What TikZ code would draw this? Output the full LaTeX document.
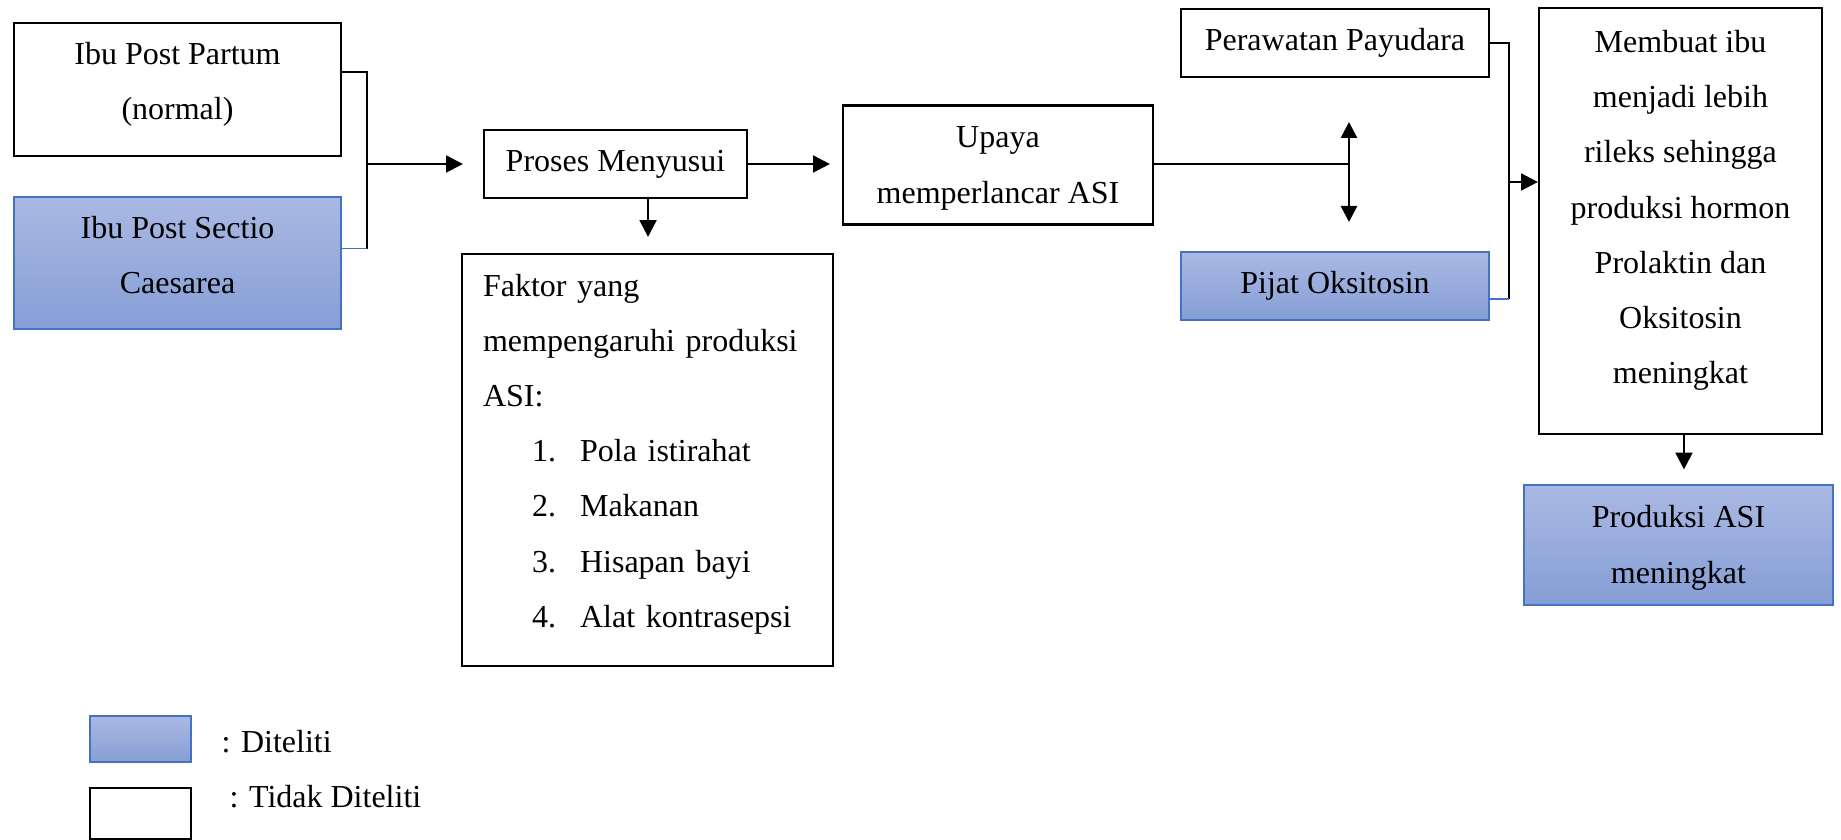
\documentclass[tikz,border=0pt]{standalone}
\usepackage{fontspec}
\setmainfont{Liberation Serif}
\usepackage{tikz}
\usetikzlibrary{calc}
\usetikzlibrary{arrows.meta}

\definecolor{diteliti}{RGB}{68,114,196}
\definecolor{ditelititop}{RGB}{170,185,227}
\definecolor{ditelitibot}{RGB}{134,158,214}

\newcommand{\pxu}{0.375pt}

\begin{document}
\begin{tikzpicture}[x=0.375pt, y=-0.375pt,
    font=\fontsize{12pt}{20.7pt}\selectfont,
    kotak/.style={draw, line width=0.8pt, align=center, inner sep=0pt},
    biru/.style={draw=diteliti, line width=0.45pt, top color=ditelititop, bottom color=ditelitibot, align=center, inner sep=0pt},
    garis/.style={line width=0.9pt},
    garisbiru/.style={draw=diteliti, line width=0.45pt},
    panah/.style={line width=0.9pt, -{Triangle[length=6.3pt,width=6.3pt]}},
    panahdua/.style={line width=1pt, {Triangle[length=6pt,width=6pt]}-{Triangle[length=6pt,width=6pt]}}]
    \useasboundingbox (0,0) rectangle (1841,840);

    \node[kotak, minimum width=327*\pxu, minimum height=133*\pxu, text depth=6.2pt] (pp) at (177.5,89.5) {Ibu Post Partum\\(normal)};
    \node[biru, minimum width=327*\pxu, minimum height=132*\pxu, text depth=5.8pt] (sc) at (177.5,263) {Ibu Post Sectio\\Caesarea};
    \node[kotak, minimum width=263*\pxu, minimum height=68*\pxu] (pm) at (615.5,164) {Proses Menyusui};
    \node[kotak, minimum width=310*\pxu, minimum height=119*\pxu] (up) at (998,165) {\rule{0pt}{10.5pt}Upaya\\memperlancar ASI};
    \node[kotak, minimum width=371*\pxu, minimum height=412*\pxu, align=left, text width=329*\pxu, inner xsep=21*\pxu, text depth=131.2pt] (fk) at (647.5,460)
      {Faktor yang\\mempengaruhi produksi\\ASI:\\
       \hspace*{18.4pt}\makebox[18pt][l]{1.}Pola istirahat\\
       \hspace*{18.4pt}\makebox[18pt][l]{2.}Makanan\\
       \hspace*{18.4pt}\makebox[18pt][l]{3.}Hisapan bayi\\
       \hspace*{18.4pt}\makebox[18pt][l]{4.}Alat kontrasepsi};
    \node[kotak, minimum width=308*\pxu, minimum height=68*\pxu] (pr) at (1335,43) {Perawatan Payudara};
    \node[biru, minimum width=308*\pxu, minimum height=68*\pxu] (po) at (1335,286) {Pijat Oksitosin};
    \node[kotak, minimum width=283*\pxu, minimum height=426*\pxu, text depth=10.5pt] (mb) at (1680.5,221)
      {Membuat ibu\\menjadi lebih\\rileks sehingga\\produksi hormon\\Prolaktin dan\\Oksitosin\\meningkat};
    \node[biru, minimum width=309*\pxu, minimum height=120*\pxu] (pa) at (1678.5,545) {\rule{0pt}{10.4pt}Produksi ASI\\meningkat};

    \coordinate (ppk) at ([yshift=6.6pt]pp.east);
    \coordinate (sck) at ([yshift=5.3pt]sc.east);
    \coordinate (kiri) at (367,164);
    \draw[garis] (ppk) -| (kiri) -- (kiri |- sck);
    \draw[garisbiru] (sck) -- (kiri |- sck);
    \draw[panah, shorten >=7.5pt] (kiri) -- (pm.west);

    \draw[panah, shorten >=4.5pt] (pm.east) -- (pm.east -| up.west);
    \coordinate (pmb) at ([xshift=12.2pt]pm.south);
    \draw[panah, shorten >=6pt] (pmb) -- (pmb |- fk.north);

    \coordinate (tengah) at (1349,164);
    \coordinate (atas) at (1349,122);
    \coordinate (bawah) at (1349,222);
    \draw[garis] (up.east |- tengah) -- (tengah);
    \draw[panahdua] (atas) -- (bawah);

    \coordinate (pok) at ([yshift=-4.9pt]po.east);
    \coordinate (kanan) at (1509,182);
    \draw[garis] (pr.east) -| (kanan) -- (kanan |- pok);
    \draw[garisbiru] (pok) -- (kanan |- pok);
    \draw[panah] (kanan) -- (kanan -| mb.west);

    \coordinate (mbb) at ([xshift=1.3pt]mb.south);
    \draw[panah, shorten >=5.6pt] (mbb) -- (mbb |- pa.north);

    \node[biru, minimum width=101*\pxu, minimum height=46*\pxu] (lgb) at (140.5,739) {};
    \node[anchor=base west, inner sep=0pt] (lgbt) at (221,753) {: Diteliti};
    \node[kotak, minimum width=101*\pxu, minimum height=51*\pxu] (lgp) at (140.5,813.5) {};
    \node[anchor=base west, inner sep=0pt] (lgpt) at (229,808) {: Tidak Diteliti};
\end{tikzpicture}
\end{document}
